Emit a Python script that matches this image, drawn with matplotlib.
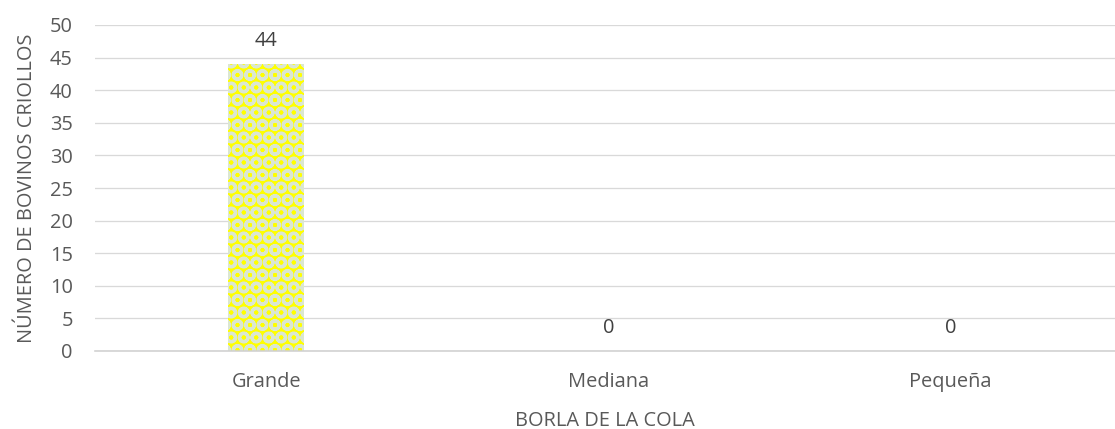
import matplotlib
matplotlib.use("Agg")
import matplotlib.pyplot as plt

categories = ["Grande", "Mediana", "Pequeña"]
values = [44, 0, 0]
y_ticks = [0, 5, 10, 15, 20, 25, 30, 35, 40, 45, 50]
x_title = "BORLA DE LA COLA"
y_title = "NÚMERO DE BOVINOS CRIOLLOS"

DPI = 150
W, H = 1115, 429


def pt(px):
    """Convert a pixel length to points at the figure resolution."""
    return px * 72 / DPI


plt.rcParams["font.family"] = ["Open Sans", "DejaVu Sans"]
plt.rcParams["hatch.linewidth"] = pt(3.2)

fig = plt.figure(figsize=(W / DPI, H / DPI), dpi=DPI)
ax = fig.add_axes([95 / W, 1 - 351 / H, (1115 - 95) / W, (351 - 25) / H])

text_color = "#595959"
fs = pt(20)
x = list(range(len(categories)))
ax.bar(x, values, width=0.22, color="#ffff00", edgecolor="#dbe7d1",
       hatch="OO", linewidth=0)

for xi, v in zip(x, values):
    ax.annotate(str(v), (xi, v), xytext=(0, pt(13)), textcoords="offset points",
                ha="center", va="bottom", fontsize=fs, color="#404040")

ax.set_xlim(-0.5, 2.48)
ax.set_ylim(0, 50)
ax.set_yticks(y_ticks)
ax.set_xticks(x)
ax.set_xticklabels(categories)
ax.tick_params(axis="both", length=0, labelsize=fs, labelcolor=text_color)
ax.tick_params(axis="x", pad=pt(21))
ax.tick_params(axis="y", pad=pt(22))
ax.grid(axis="y", color="#d9d9d9", linewidth=pt(1.3))
ax.set_axisbelow(True)
for side in ["top", "right", "left"]:
    ax.spines[side].set_visible(False)
ax.spines["bottom"].set_color("#d0d0d0")
ax.spines["bottom"].set_linewidth(pt(1.6))

ax.set_xlabel(x_title, fontsize=fs, color=text_color, labelpad=pt(19))
ax.set_ylabel(y_title, fontsize=fs, color=text_color, labelpad=pt(13))

fig.savefig("out.png", dpi=DPI, facecolor="white")
